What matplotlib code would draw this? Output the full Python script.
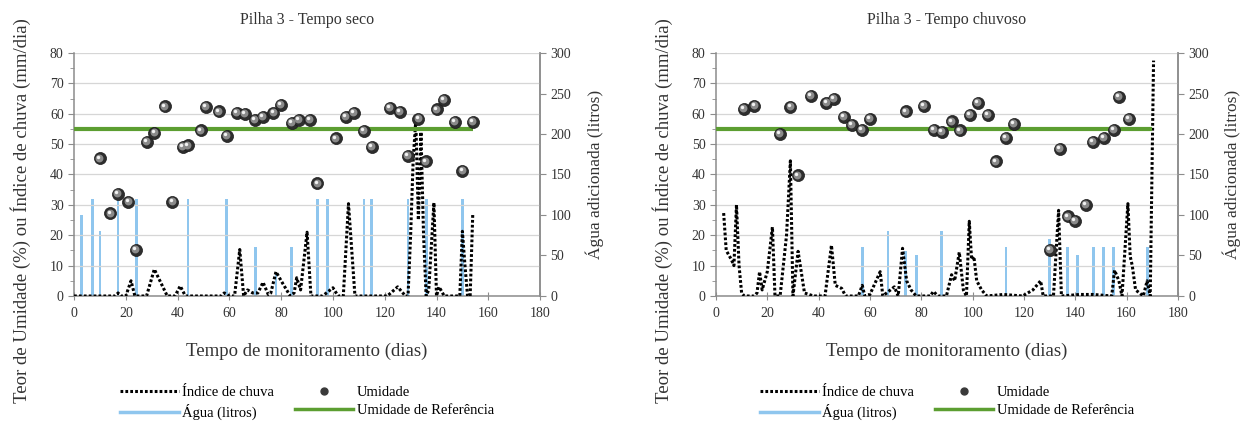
import matplotlib
matplotlib.use("Agg")
import matplotlib.pyplot as plt
from matplotlib.lines import Line2D
from matplotlib.transforms import offset_copy
from matplotlib.ticker import MultipleLocator

plt.rcParams["font.family"] = ["Liberation Serif", "DejaVu Serif"]

# ── Pilha 3 - Tempo seco ─────────────────────────────────────────────────────
seco_um_dias = [10, 14, 17, 21, 24, 28, 31, 35, 38, 42, 44, 49, 51, 56, 59, 63, 66,
                70, 73, 77, 80, 84, 87, 91, 94, 101, 105, 108, 112, 115, 122, 126,
                129, 133, 136, 140, 143, 147, 150, 154]
seco_um_vals = [45.3, 27.2, 33.7, 30.9, 15.1, 50.7, 53.7, 62.4, 31.0, 49.2, 49.6,
                54.5, 62.3, 60.8, 52.7, 60.4, 60.0, 58.0, 59.0, 60.4, 63.0, 57.1,
                58.0, 58.1, 37.1, 51.9, 59.0, 60.2, 54.3, 49.2, 61.8, 60.6, 46.1,
                58.4, 44.3, 61.4, 64.6, 57.4, 41.2, 57.4]

seco_agua_dias = [3, 7, 10, 17, 24, 44, 59, 70, 78, 84, 94, 98, 112, 115, 129, 136, 150]
seco_agua_vals = [100, 120, 80, 120, 120, 120, 120, 60, 30, 60, 120, 120, 120, 120,
                  120, 120, 120]

seco_chuva_dias = [0, 16, 17, 18, 20, 22, 23.5, 28, 31, 36, 39, 41, 43, 57, 58, 60,
                   62, 64, 65.5, 67, 69, 71, 73, 75, 76, 78, 80, 83.5, 85, 86, 87.5,
                   90, 91.5, 96, 100, 102, 104, 106, 108.5, 121, 125, 128, 129,
                   130, 131, 132, 133, 134, 135, 136, 137, 139, 140, 141, 143, 149,
                   150, 151, 152, 153, 154]
seco_chuva_vals = [0, 0, 1, 0, 0, 5, 0, 0, 8.8, 0, 0, 3.3, 0, 0, 1, 0,
                   0, 15.3, 0, 2, 1, 1, 4.5, 0.5, 1, 8, 5, 0, 1, 6, 2,
                   21, 0, 0, 2.7, 0, 0, 30.4, 0, 0, 3, 0, 0,
                   20, 45, 57.8, 25, 54, 20, 0, 2, 30.7, 0, 3, 0, 0,
                   21.3, 10, 0, 0, 26.9]

# ── Pilha 3 - Tempo chuvoso ──────────────────────────────────────────────────
chuv_um_dias = [11, 15, 25, 29, 32, 37, 43, 46, 50, 53, 57, 60, 74, 81, 85, 88, 92,
                95, 99, 102, 106, 109, 113, 116, 130, 134, 137, 140, 144, 147, 151,
                155, 157, 161]
chuv_um_vals = [61.5, 62.6, 53.3, 62.2, 39.7, 65.9, 63.7, 64.8, 59.0, 56.3, 54.8,
                58.2, 60.8, 62.6, 54.7, 54.1, 57.5, 54.5, 59.6, 63.5, 59.6, 44.3,
                52.0, 56.6, 15.2, 48.5, 26.2, 24.8, 30.0, 50.8, 52.0, 54.7, 65.6,
                58.4]

chuv_agua_dias = [57, 67, 74, 78, 88, 113, 130, 137, 141, 147, 151, 155, 168]
chuv_agua_vals = [60, 80, 55, 50, 80, 60, 70, 60, 50, 60, 60, 60, 60]

chuv_chuva_dias = [3, 4, 6, 7, 8, 9, 10, 11, 15, 16, 17, 18, 20, 22, 23, 25, 27.5,
                   29, 30, 32, 34.5, 38, 42.5, 45, 46.5, 49, 50.5, 55.5, 57, 58,
                   60, 64, 65, 68, 69.5, 71, 72.7, 74.3, 76, 78, 83.5, 84.7, 86.5,
                   89.8, 91.8, 93, 94.8, 96.4, 97.6, 98.7, 99.6, 100.5, 101.6, 103.5,
                   105.5, 112, 119.5, 123.5, 126.5, 127.5, 131.5, 133.5, 134.6,
                   141.8, 147, 154.2, 155.3, 157, 158.2, 160.5, 161.4, 162.2, 163.5,
                   166.5, 168, 169.2, 170.5]
chuv_chuva_vals = [27.3, 15, 12, 10, 30, 10, 1, 0, 0, 1, 8, 2, 8, 22.7, 0, 0, 20,
                   44.5, 0, 14.7, 1, 0, 0, 16.7, 3.5, 2.5, 0, 0, 3.5, 0,
                   0.5, 8, 0, 2, 3, 0, 15.7, 5, 2, 0, 0, 1.5, 0,
                   0, 7, 5, 14.4, 2, 0, 24.6, 12, 13, 5, 2,
                   0, 0.5, 0, 2, 5, 0, 0, 28.2, 0,
                   0.5, 0.5, 0, 8.5, 5, 0, 30.4, 13, 10, 2,
                   0, 5, 0, 77.5]

UMIDADE_REF = 55
REF_FIM = [154, 170]

# ── Cores ────────────────────────────────────────────────────────────────────
COR_AGUA = "#8fc6ee"
COR_REF = "#5c9e31"
COR_EIXO = "#8c8c8c"
COR_TEXTO = "#333333"


def draw_panel(fig, rect, titulo, um_d, um_v, ag_d, ag_v, ch_d, ch_v, ref_fim):
    ax = fig.add_axes(rect)
    ax2 = ax.twinx()
    ax.set_zorder(ax2.get_zorder() + 1)
    ax.patch.set_visible(False)

    # água (eixo direito)
    ax2.bar(ag_d, ag_v, width=1.1, color=COR_AGUA, zorder=2)
    ax2.set_ylim(0, 300)
    ax2.yaxis.set_major_locator(MultipleLocator(50))

    # chuva
    ax.plot(ch_d, ch_v, color="black", lw=2.2, ls=(0, (0.9, 0.7)), zorder=3)
    # referência
    ax.plot([0, ref_fim], [UMIDADE_REF, UMIDADE_REF], color=COR_REF, lw=3, zorder=4,
            solid_capstyle="butt")
    # umidade: esfera sombreada
    ax.scatter(um_d, um_v, s=75, color="#2e2e2e", edgecolors="#1a1a1a", lw=0.5, zorder=5)
    tr1 = offset_copy(ax.transData, fig=fig, x=-0.8, y=0.8, units="dots")
    ax.scatter(um_d, um_v, s=32, color="#8a8a8a", lw=0, zorder=6, transform=tr1)
    tr2 = offset_copy(ax.transData, fig=fig, x=-1.8, y=1.8, units="dots")
    ax.scatter(um_d, um_v, s=6, color="#f2f2f2", lw=0, zorder=7, transform=tr2)

    ax.set_xlim(0, 180)
    ax.set_ylim(0, 80)
    ax.xaxis.set_major_locator(MultipleLocator(20))
    ax.yaxis.set_major_locator(MultipleLocator(10))
    ax.yaxis.set_minor_locator(MultipleLocator(5))
    ax.grid(axis="y", color="#d6d6d6", lw=0.9, zorder=0)
    ax.set_axisbelow(True)

    for a in (ax, ax2):
        a.spines["top"].set_visible(False)
        for s in ("left", "right", "bottom"):
            a.spines[s].set_color(COR_EIXO)
            a.spines[s].set_linewidth(1.1)
        a.tick_params(colors=COR_EIXO, labelcolor=COR_TEXTO, labelsize=10, length=4)
    ax2.spines["left"].set_visible(False)
    ax2.spines["bottom"].set_visible(False)
    ax.tick_params(axis="x", direction="inout", length=6, pad=5)
    ax.tick_params(axis="y", which="minor", length=3, colors=COR_EIXO)

    ax.set_title(titulo, fontsize=11.5, pad=21, color=COR_TEXTO)
    ax.set_xlabel("Tempo de monitoramento (dias)", fontsize=13.5, labelpad=16,
                  color=COR_TEXTO)
    ax.set_ylabel("Teor de Umidade (%) ou Índice de chuva (mm/dia)", fontsize=13.5,
                  color=COR_TEXTO)
    ax.yaxis.set_label_coords(-0.093, 0.35)
    ax2.set_ylabel("Água adicionada (litros)", fontsize=12.5, labelpad=10,
                   color=COR_TEXTO)

    handles = [
        Line2D([], [], color="black", lw=2.2, ls=(0, (0.9, 0.7))),
        Line2D([], [], color=COR_AGUA, lw=2.5),
        Line2D([], [], ls="", marker="o", ms=5, color="#3a3a3a"),
        Line2D([], [], color=COR_REF, lw=2.5),
    ]
    labels = ["Índice de chuva", "Água (litros)", "Umidade", "Umidade de Referência"]
    ax.legend(handles, labels, ncol=2, frameon=False, loc="center",
              bbox_to_anchor=(0.5, -0.44), fontsize=10.5, handlelength=4.0,
              handletextpad=0.25, columnspacing=1.4, labelspacing=0.35)
    return ax


fig = plt.figure(figsize=(12.51, 4.22), dpi=100)
draw_panel(fig, [0.0592, 0.2986, 0.3725, 0.5758], "Pilha 3 - Tempo seco",
           seco_um_dias, seco_um_vals, seco_agua_dias, seco_agua_vals,
           seco_chuva_dias, seco_chuva_vals, REF_FIM[0])
draw_panel(fig, [0.5723, 0.2986, 0.3693, 0.5758], "Pilha 3 - Tempo chuvoso",
           chuv_um_dias, chuv_um_vals, chuv_agua_dias, chuv_agua_vals,
           chuv_chuva_dias, chuv_chuva_vals, REF_FIM[1])

fig.savefig("out.png", dpi=100)
